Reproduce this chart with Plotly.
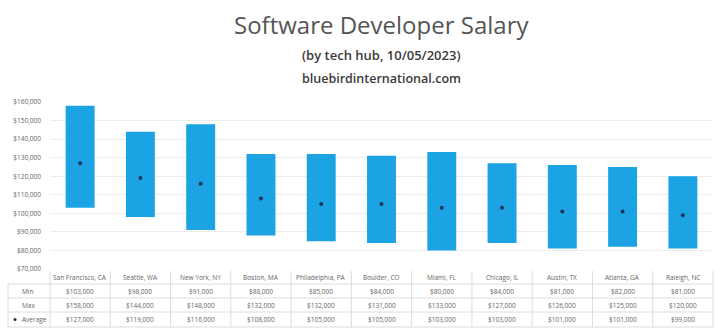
import plotly.graph_objects as go

categories = ["San Francisco, CA", "Seattle, WA", "New York, NY", "Boston, MA", "Philadelphia, PA",
              "Boulder, CO", "Miami, FL", "Chicago, IL", "Austin, TX", "Atlanta, GA", "Raleigh, NC"]
min_vals = [103000, 98000, 91000, 88000, 85000, 84000, 80000, 84000, 81000, 82000, 81000]
max_vals = [158000, 144000, 148000, 132000, 132000, 131000, 133000, 127000, 126000, 125000, 120000]
avg_vals = [127000, 119000, 116000, 108000, 105000, 105000, 103000, 103000, 101000, 101000, 99000]
row_labels = ["Min", "Max", "Average"]
y_ticks = list(range(70000, 160001, 10000))

W, H = 720, 330
L, R, T, B = 50, 7, 102, 61
PW = W - L - R
PH = H - T - B

def px_x(x):
    return (x - L) / PW

def px_y(y):
    return (H - B - y) / PH

BAR = "#1ba3e3"
DOT = "#1d3557"
TXT = "#555555"
LINE = "#dcdcdc"
FONT = "Open Sans"

fig = go.Figure()
fig.add_trace(go.Bar(
    x=categories, y=[mx - mn for mx, mn in zip(max_vals, min_vals)], base=min_vals,
    marker=dict(color=BAR, line=dict(width=0)), width=0.48, hoverinfo="skip", showlegend=False))
fig.add_trace(go.Scatter(
    x=categories, y=avg_vals, mode="markers",
    marker=dict(color=DOT, size=4), showlegend=False))

annotations = []
shapes = []
# Titles
annotations.append(dict(text="Software Developer Salary", x=0.5, y=px_y(24), xref="paper", yref="paper",
                        xanchor="center", yanchor="middle", showarrow=False,
                        font=dict(family=FONT, size=24, color=TXT, weight=500)))
annotations.append(dict(text="(by tech hub, 10/05/2023)", x=0.5, y=px_y(55), xref="paper", yref="paper",
                        xanchor="center", yanchor="middle", showarrow=False,
                        font=dict(family=FONT, size=13, color="#3a3a3a", weight=600)))
annotations.append(dict(text="bluebirdinternational.com", x=0.5, y=px_y(78), xref="paper", yref="paper",
                        xanchor="center", yanchor="middle", showarrow=False,
                        font=dict(family=FONT, size=12.5, color="#3a3a3a", weight=600)))

# Table
header_y = (271 + 284) / 2
row_y = [(284 + 298) / 2, (298 + 312) / 2, (312 + 327) / 2]
rows = [min_vals, max_vals, avg_vals]
for i, c in enumerate(categories):
    annotations.append(dict(text=c, x=c, y=px_y(header_y), xref="x", yref="paper", showarrow=False,
                            xanchor="center", yanchor="middle", font=dict(family=FONT, size=6.5, color="#666")))
    for r, vals in enumerate(rows):
        annotations.append(dict(text="${:,}".format(vals[i]), x=c, y=px_y(row_y[r]), xref="x", yref="paper",
                                showarrow=False, xanchor="center", yanchor="middle",
                                font=dict(family=FONT, size=6.5, color="#666")))
for r, lab in enumerate(row_labels):
    annotations.append(dict(text=lab, x=px_x(20), y=px_y(row_y[r]), xref="paper", yref="paper",
                            showarrow=False, xanchor="left", yanchor="middle",
                            font=dict(family=FONT, size=6.5, color="#666")))
# legend dot for Average
shapes.append(dict(type="circle", xref="paper", yref="paper",
                   x0=px_x(13.5), x1=px_x(16.5), y0=px_y(row_y[2] + 1.5), y1=px_y(row_y[2] - 1.5),
                   fillcolor=DOT, line=dict(width=0)))
# lines
for k in range(len(categories) + 1):
    xx = px_x(L + k * PW / len(categories))
    shapes.append(dict(type="line", xref="paper", yref="paper", x0=xx, x1=xx,
                       y0=px_y(271), y1=px_y(327), line=dict(color=LINE, width=1)))
shapes.append(dict(type="line", xref="paper", yref="paper", x0=px_x(8), x1=px_x(8),
                   y0=px_y(284), y1=px_y(327), line=dict(color=LINE, width=1)))
for yy in [284, 298, 312, 327]:
    shapes.append(dict(type="line", xref="paper", yref="paper", x0=px_x(8), x1=1,
                       y0=px_y(yy), y1=px_y(yy), line=dict(color=LINE, width=1)))

fig.update_layout(
    width=W, height=H, margin=dict(l=L, r=R, t=T, b=B),
    paper_bgcolor="white", plot_bgcolor="white",
    xaxis=dict(showticklabels=False, showgrid=False, zeroline=False, showline=False,
               categoryorder="array", categoryarray=categories, range=[-0.5, len(categories) - 0.5]),
    yaxis=dict(range=[70000, 160000], tickvals=y_ticks, ticktext=["${:,}".format(v) for v in y_ticks],
               showgrid=True, gridcolor="#ececec", gridwidth=1, zeroline=False, showline=False,
               ticklabelstandoff=8, tickfont=dict(family=FONT, size=6.5, color="#666")),
    annotations=annotations, shapes=shapes,
)
fig.write_html("out.html")
